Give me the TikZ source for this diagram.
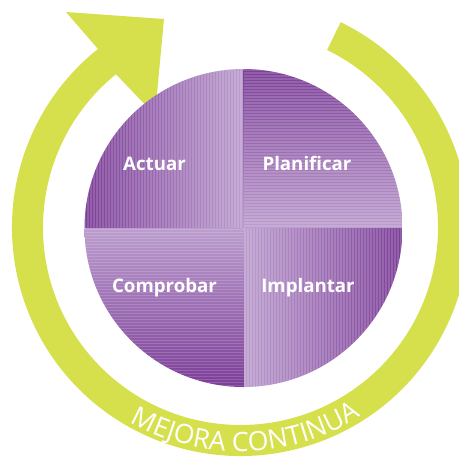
\documentclass[tikz,border=0pt]{standalone}
\usepackage{fontspec}
\setmainfont{Open Sans}
\usetikzlibrary{decorations.text}

\definecolor{anillo}{RGB}{213,224,76}
\definecolor{moradoosc}{RGB}{124,62,152}
\definecolor{moradocla}{RGB}{188,158,206}

\tikzset{
  fase/.style={anchor=base, inner sep=0.75pt, text=white, font=\fontsize{14}{16}\selectfont\bfseries},
  raya/.style={draw=white, draw opacity=0.16, line width=0.9},
}

\begin{document}
\begin{tikzpicture}[x=0.75pt,y=0.75pt,yscale=-1,xscale=1]
\useasboundingbox (0,0) rectangle (459,457);
\clip (0,0) rectangle (459,457);

\coordinate (c) at (240.5,227.5);
\coordinate (p) at (243.5,228);

%Shape: Arc with arrow head [mejora continua]
\fill [anillo] ([shift={(-64:228.5)}]c) arc (-64:231.4:228.5) -- (66,12) -- (164,19) -- (155,115) -- ([shift={(230.9:197.5)}]c) arc (230.9:-64:197.5) -- cycle ;

%Shape: Quarter [actuar]
\shade [left color=moradoosc, right color=moradocla] (p) -- ++(-159,0) arc (180:270:159) -- cycle ;
%Shape: Quarter [planificar]
\shade [top color=moradoosc, bottom color=moradocla] (p) -- ++(0,-159) arc (270:360:159) -- cycle ;
%Shape: Quarter [implantar]
\shade [left color=moradocla, right color=moradoosc] (p) -- ++(159,0) arc (0:90:159) -- cycle ;
%Shape: Quarter [comprobar]
\shade [top color=moradocla, bottom color=moradoosc] (p) -- ++(0,159) arc (90:180:159) -- cycle ;

% stripes
\begin{scope}
\clip (p) -- ++(-159,0) arc (180:270:159) -- cycle ;
\foreach \x in {85,88,...,243} \draw [raya] (\x,69) -- (\x,228) ;
\end{scope}
\begin{scope}
\clip (p) -- ++(0,-159) arc (270:360:159) -- cycle ;
\foreach \y in {70,73,...,228} \draw [raya] (243.5,\y) -- (403,\y) ;
\end{scope}
\begin{scope}
\clip (p) -- ++(159,0) arc (0:90:159) -- cycle ;
\foreach \x in {245,248,...,403} \draw [raya] (\x,228) -- (\x,387) ;
\end{scope}
\begin{scope}
\clip (p) -- ++(0,159) arc (90:180:159) -- cycle ;
\foreach \y in {229.5,232.5,...,387} \draw [raya] (84,\y) -- (243.5,\y) ;
\end{scope}

% Text Node
\node [fase] (actuar) at (154.5,170) {Actuar};
% Text Node
\node [fase] (planificar) at (307,170.5) {Planificar};
% Text Node
\node [fase] (comprobar) at (164.5,292) {Comprobar};
% Text Node
\node [fase] (implantar) at (308,292) {Implantar};

% Curved text
\path [decorate, decoration={text along path, text align=center, text color=white,
  text={|\fontsize{20}{22}\selectfont|MEJORA CONTINUA}}] ([shift={(124:224)}]c) arc (124:53:224) ;
\end{tikzpicture}
\end{document}
